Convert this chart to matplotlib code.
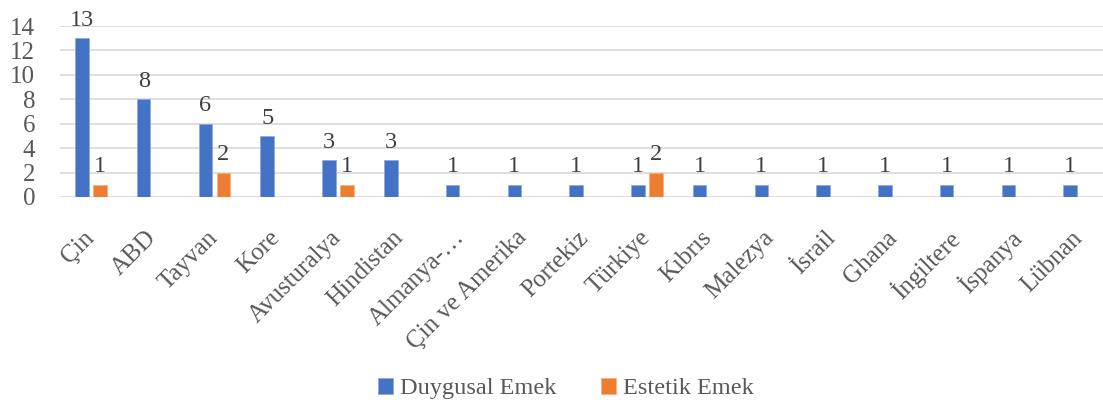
import matplotlib.pyplot as plt
import numpy as np

plt.rcParams['font.family'] = ['Liberation Serif', 'DejaVu Serif']

countries = ['Çin', 'ABD', 'Tayvan', 'Kore', 'Avusturalya', 'Hindistan', 'Almanya-…',
             'Çin ve Amerika', 'Portekiz', 'Türkiye', 'Kıbrıs', 'Malezya', 'İsrail',
             'Ghana', 'İngiltere', 'İspanya', 'Lübnan']
duygusal = [13, 8, 6, 5, 3, 3, 1, 1, 1, 1, 1, 1, 1, 1, 1, 1, 1]
estetik = [1, np.nan, 2, np.nan, 1, np.nan, np.nan, np.nan, np.nan, 2,
           np.nan, np.nan, np.nan, np.nan, np.nan, np.nan, np.nan]

blue = '#4472C4'
orange = '#ED7D31'
txt = '#404040'

fig = plt.figure(figsize=(11.03, 4.07), dpi=100)
# plot area runs a bit past the right edge, as in the source
ax = fig.add_axes([0.0544, 0.516, 0.952, 0.42])

x = np.arange(len(countries))
w = 0.22
gap = 0.035
b1 = ax.bar(x - w/2 - gap, duygusal, w, color=blue, edgecolor='#8EA9DB', linewidth=0.6,
            label='Duygusal Emek', zorder=2)
b2 = ax.bar(x + w/2 + gap, estetik, w, color=orange, edgecolor='#F4B183', linewidth=0.6,
            label='Estetik Emek', zorder=2)

for xi, v in zip(x, duygusal):
    ax.text(xi - w/2 - gap, v + 0.6, f'{v:g}', ha='center', va='bottom', fontsize=17.5, color=txt)
for xi, v in zip(x, estetik):
    if not np.isnan(v):
        ax.text(xi + w/2 + gap, v + 0.6, f'{v:g}', ha='center', va='bottom', fontsize=17.5, color=txt)

ax.set_ylim(0, 14)
ax.set_xlim(-0.5, len(countries) - 0.5)
ax.set_yticks(range(0, 15, 2))
ax.yaxis.grid(True, color='#D9D9D9', linewidth=1.2, zorder=0)
ax.set_axisbelow(True)
for s in ax.spines.values():
    s.set_visible(False)
ax.tick_params(axis='both', length=0, labelsize=18, colors='#595959')
ax.tick_params(axis='y', pad=18)
ax.tick_params(axis='x', pad=27)
ax.set_xticks(x)
ax.set_xticklabels(countries, rotation=45, ha='right', va='center', rotation_mode='anchor')

fig.legend(handles=[b1, b2], loc='lower center', bbox_to_anchor=(0.513, -0.035), ncol=2,
           frameon=False, fontsize=17.5, handlelength=0.6, handleheight=0.6,
           handletextpad=0.3, columnspacing=1.85, labelcolor='#595959')

fig.savefig('out.png', dpi=100)
